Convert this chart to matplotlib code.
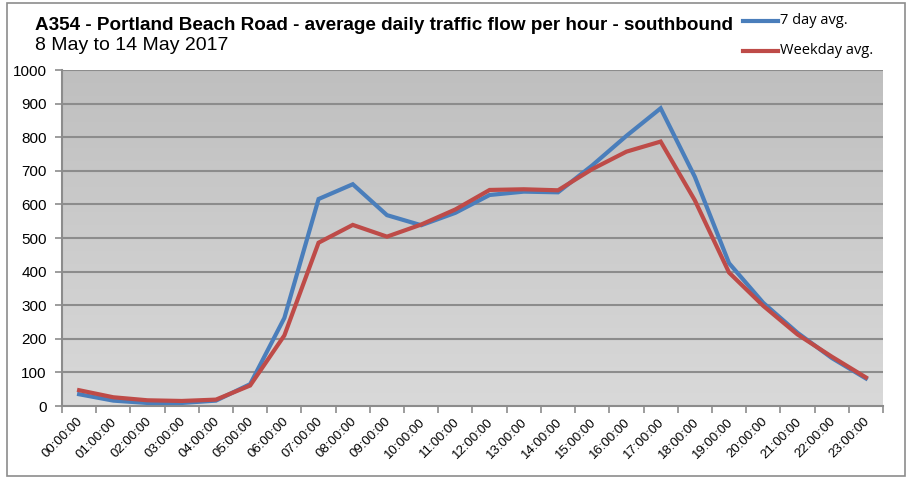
import matplotlib
matplotlib.use("Agg")
import matplotlib.pyplot as plt
import numpy as np
from matplotlib.patches import Rectangle
from matplotlib.transforms import ScaledTranslation
from matplotlib.colors import LinearSegmentedColormap

hours = [f"{h:02d}:00:00" for h in range(24)]
seven_day = [35, 16, 9, 9, 16, 65, 262, 616, 660, 568, 538, 575, 628, 638, 636, 716, 804, 886, 682, 425, 307, 218, 143, 82]
weekday = [47, 26, 17, 15, 19, 61, 210, 486, 539, 504, 540, 585, 643, 645, 642, 705, 757, 787, 612, 397, 298, 213, 147, 85]
yticks = [0, 100, 200, 300, 400, 500, 600, 700, 800, 900, 1000]

title = "A354 - Portland Beach Road - average daily traffic flow per hour - southbound"
subtitle = "8 May to 14 May 2017"

W, H = 906, 479
fig = plt.figure(figsize=(W/100, H/100), dpi=100)
fig.patch.set_facecolor("white")

# outer frame
fig.patches.append(Rectangle((7/W, 3/H), (W-8)/W, (H-6)/H, transform=fig.transFigure,
                             fill=False, edgecolor="#8c8c8c", linewidth=1.2))

l, r, t, b = 62, 883, 70, 406
ax = fig.add_axes([l/W, 1-b/H, (r-l)/W, (b-t)/H])

n = len(hours)
x = np.arange(n)
ax.set_xlim(-0.5, n-0.5)
ax.set_ylim(0, 1000)

# gradient background
grad = np.linspace(0, 1, 256).reshape(-1, 1)
cmap = LinearSegmentedColormap.from_list("g", ["#d9d9d9", "#bfbfbf"])
ax.imshow(grad, extent=[-0.5, n-0.5, 0, 1000], origin="lower", aspect="auto",
          cmap=cmap, zorder=0)

for v in yticks[1:]:
    ax.axhline(v, color="#8c8c8c", linewidth=1.5, zorder=1)

ax.plot(x, seven_day, color="#4a7ebb", linewidth=3, zorder=3, label="7 day avg.",
        solid_joinstyle="miter")
ax.plot(x, weekday, color="#be4b48", linewidth=3, zorder=4, label="Weekday avg.",
        solid_joinstyle="miter")

for s in ["top", "right"]:
    ax.spines[s].set_visible(False)
for s in ["left", "bottom"]:
    ax.spines[s].set_color("#8c8c8c")
    ax.spines[s].set_linewidth(1.5)

ax.set_yticks(yticks)
ax.set_yticklabels([str(v) for v in yticks], fontsize=11, family="Liberation Sans")
ax.tick_params(axis="y", length=5, color="#8c8c8c", width=1.2, pad=6)

ax.set_xticks(np.arange(-0.5, n, 1.0), minor=False)
ax.set_xticklabels([])
ax.tick_params(axis="x", length=5, color="#8c8c8c", width=1.2)
ax.set_xticks(x, minor=True)
ax.set_xticklabels(hours, minor=True, rotation=45, ha="right", va="center",
                   rotation_mode="anchor", fontsize=9.5, family="Liberation Sans")
ax.tick_params(axis="x", which="minor", length=0, pad=10)
off = ScaledTranslation(2/100, 0, fig.dpi_scale_trans)
for lab in ax.get_xticklabels(minor=True):
    lab.set_transform(lab.get_transform() + off)

fig.text(35/W, 1-25/H, title, fontsize=13.6, fontweight="bold", family="Liberation Sans",
         va="center", ha="left")
fig.text(35/W, 1-46/H, subtitle, fontsize=14, family="Liberation Sans",
         va="center", ha="left")

# legend
for i, (lab, col) in enumerate([("7 day avg.", "#4a7ebb"), ("Weekday avg.", "#be4b48")]):
    yy = 1 - (20.5 + 30.5*i)/H
    fig.add_artist(plt.Line2D([743/W, 778/W], [yy, yy], color=col, linewidth=3,
                              transform=fig.transFigure))
    fig.text(780/W, yy, lab, fontsize=10.5, family="Open Sans", va="center", ha="left")

fig.savefig("out.png", dpi=100)
